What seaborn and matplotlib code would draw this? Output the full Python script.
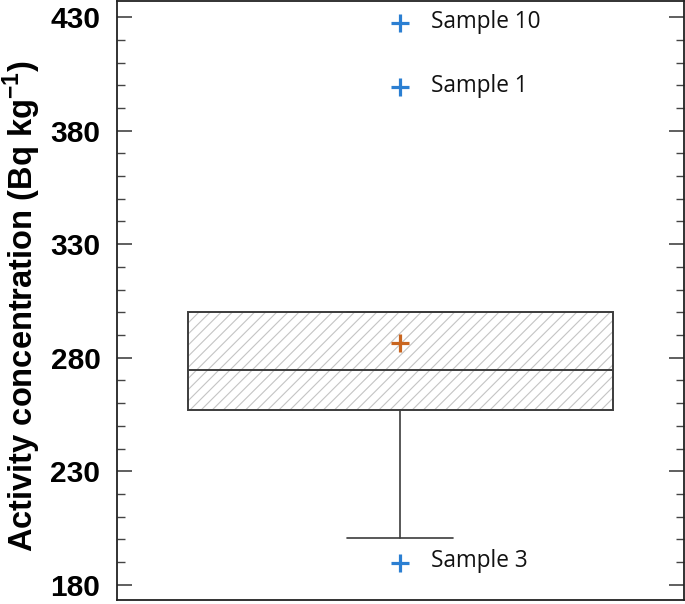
import matplotlib
matplotlib.use("Agg")
import matplotlib.pyplot as plt
import seaborn as sns
from matplotlib.patches import PathPatch
from matplotlib.ticker import MultipleLocator

# Box statistics (Bq kg-1)
q1 = 257.0
median = 274.6
q3 = 300.0
mean_value = 286.5
whisker_low = 200.7
whisker_high = 300.0

# Outliers
outlier_names = ["Sample 10", "Sample 1", "Sample 3"]
outlier_values = [427.4, 399.2, 189.7]

y_ticks = [180, 230, 280, 330, 380, 430]

sns.set_style("ticks")
plt.rcParams["hatch.linewidth"] = 0.8
plt.rcParams["mathtext.fontset"] = "custom"
plt.rcParams["mathtext.bf"] = "Liberation Sans:bold"
plt.rcParams["mathtext.rm"] = "Liberation Sans:bold"

fig = plt.figure(figsize=(6.85, 6.04), dpi=100)
ax = fig.add_axes([0.171, 0.007, 0.827, 0.991])

stats = [{
    "med": median, "q1": q1, "q3": q3, "mean": mean_value,
    "whislo": whisker_low, "whishi": whisker_high, "fliers": [],
}]
edge = "#3c3c3c"
parts = ax.bxp(stats, positions=[0], widths=0.75, capwidths=0.1875,
               showmeans=False, patch_artist=True,
               boxprops=dict(facecolor="white", edgecolor="#c4c4c4", linewidth=0,
                             hatch="///"),
               medianprops=dict(color=edge, linewidth=1.4),
               whiskerprops=dict(color=edge, linewidth=1.2),
               capprops=dict(color=edge, linewidth=1.2))
# dark outline on top of the light hatching
box = parts["boxes"][0]
ax.add_patch(PathPatch(box.get_path(), transform=box.get_transform(), fill=False,
                       edgecolor=edge, linewidth=1.4, zorder=3))

# mean marker
sns.scatterplot(x=[0], y=[mean_value], marker="+", s=180, linewidth=2.3,
                color="#c9651f", ax=ax, zorder=5)

# outliers with labels
sns.scatterplot(x=[0] * len(outlier_values), y=outlier_values, marker="+", s=180,
                linewidth=2.3, color="#2b7fd2", ax=ax, zorder=5)
for name, val in zip(outlier_names, outlier_values):
    ax.annotate(name, (0, val), xytext=(22, 1), textcoords="offset points",
                ha="left", va="center", fontsize=16.3, family="Open Sans",
                color="#111111")

ax.set_xlim(-0.5, 0.5)
ax.set_ylim(173.4, 437.0)
ax.set_xticks([])
ax.set_yticks(y_ticks)
ax.yaxis.set_minor_locator(MultipleLocator(10))
ax.tick_params(axis="y", which="both", direction="in", right=True, color="#444444",
               labelcolor="black", pad=12)
ax.tick_params(axis="y", which="major", length=11, width=1.2)
ax.tick_params(axis="y", which="minor", length=6, width=1.0)
for lbl in ax.get_yticklabels():
    lbl.set_fontsize(21.5)
    lbl.set_fontweight("bold")
    lbl.set_family("Liberation Sans")
for s in ax.spines.values():
    s.set_color("#222222")
    s.set_linewidth(1.3)

ax.set_ylabel(r"Activity concentration (Bq kg$^{\mathbf{-1}}$)", fontsize=23.5,
              fontweight="bold", family="Liberation Sans", color="black")
ax.yaxis.set_label_coords(-0.131, 0.49)

fig.savefig("out.png", dpi=100)
